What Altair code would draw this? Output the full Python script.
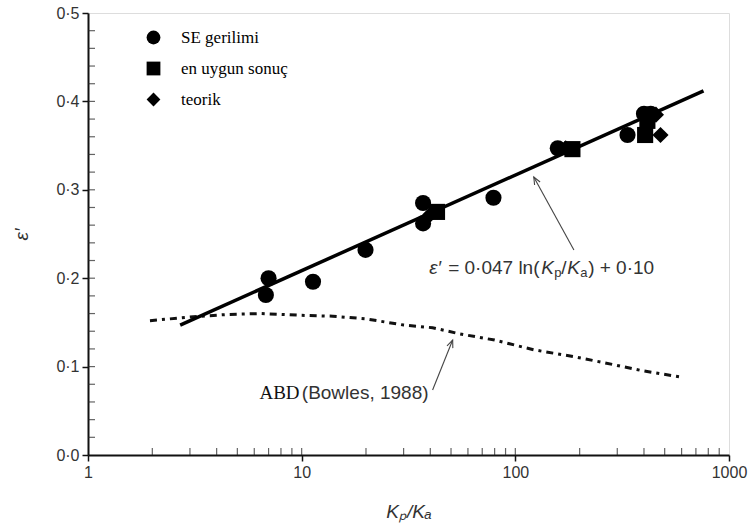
import altair as alt
import pandas as pd

# ---------------- data ----------------
series_names = ["SE gerilimi", "en uygun sonuç", "teorik"]

se_x = [6.8, 7.0, 11.3, 19.9, 37.0, 37.0, 79.0, 158.0, 335.0, 400.0, 430.0]
se_y = [0.181, 0.200, 0.196, 0.232, 0.285, 0.262, 0.291, 0.347, 0.362, 0.386, 0.386]
best_x = [43.0, 185.0, 415.0, 405.0]
best_y = [0.275, 0.346, 0.378, 0.362]
theo_x = [40.0, 172.0, 478.0, 455.0]
theo_y = [0.272, 0.347, 0.362, 0.385]

fit_x = [2.7, 760.0]
fit_y = [0.147, 0.412]

abd_x = [1.95, 3.0, 4.5, 6.5, 10.0, 14.0, 20.0, 30.0, 41.0, 55.0, 80.0, 122.0, 190.0, 253.0, 400.0, 600.0]
abd_y = [0.152, 0.156, 0.159, 0.160, 0.158, 0.157, 0.154, 0.147, 0.144, 0.137, 0.130, 0.119, 0.111, 0.105, 0.095, 0.088]

x_major = [1, 10, 100, 1000]
x_minor = [2, 3, 4, 5, 6, 7, 8, 9, 10, 20, 30, 40, 50, 60, 70, 80, 90, 100,
           200, 300, 400, 500, 600, 700, 800, 900]
y_major = [0.0, 0.1, 0.2, 0.3, 0.4, 0.5]
y_minor = [0.02, 0.04, 0.06, 0.08, 0.1, 0.12, 0.14, 0.16, 0.18, 0.2, 0.22, 0.24,
           0.26, 0.28, 0.3, 0.32, 0.34, 0.36, 0.38, 0.4, 0.42, 0.44, 0.46, 0.48]

# annotation anchors (data coordinates)
eq_anchor = (39.5, 0.211)
abd_anchor = (40.1, 0.070)
arrow_eq = [(188.0, 0.232), (122.0, 0.3145)]
arrow_abd = [(41.0, 0.0735), (50.9, 0.130)]

# ---------------- helpers ----------------
SANS = "Liberation Sans"
SERIF = "Liberation Serif"

xscale = alt.Scale(type="log", domain=[1, 1000], nice=False)
yscale = alt.Scale(domain=[0, 0.5], nice=False, zero=False)

xaxis = alt.Axis(values=x_major, format="d", labelFlush=False, grid=False,
                 tickSize=6, tickWidth=1.5, tickColor="#111",
                 domainColor="#111", domainWidth=2,
                 labelFont=SANS, labelFontSize=16, labelColor="#333", labelPadding=3,
                 title="Kₚ/Kₐ", titleFont=SANS, titleFontSize=19, titleFontStyle="italic",
                 titleFontWeight="normal", titleColor="#333", titlePadding=22)
yaxis = alt.Axis(values=y_major, grid=False,
                 labelExpr="replace(format(datum.value, '.1f'), '.', '·')",
                 tickSize=6, tickWidth=1.5, tickColor="#111",
                 domainColor="#111", domainWidth=2,
                 labelFont=SANS, labelFontSize=16, labelColor="#333", labelPadding=3,
                 title="ε′", titleFont=SANS, titleFontSize=19, titleFontStyle="italic",
                 titleFontWeight="normal", titleColor="#333", titlePadding=24)


def X(f):
    return alt.X(f"{f}:Q", scale=xscale, axis=xaxis)


def Y(f):
    return alt.Y(f"{f}:Q", scale=yscale, axis=yaxis)


# ---------------- layers ----------------
pts = pd.DataFrame({
    "x": se_x + best_x + theo_x,
    "y": se_y + best_y + theo_y,
    "s": [series_names[0]] * len(se_x) + [series_names[1]] * len(best_x) + [series_names[2]] * len(theo_x),
})
fit = pd.DataFrame({"x": fit_x, "y": fit_y})
abd = pd.DataFrame({"x": abd_x, "y": abd_y})

fit_line = alt.Chart(fit).mark_line(color="black", strokeWidth=3.5).encode(x=X("x"), y=Y("y"))
abd_line = alt.Chart(abd).mark_line(color="#111", strokeWidth=3, strokeDash=[7, 5, 3, 5]).encode(
    x=X("x"), y=Y("y"))

points = alt.Chart(pts).mark_point(filled=True, color="black", opacity=1, size=260).encode(
    x=X("x"), y=Y("y"),
    shape=alt.Shape("s:N", scale=alt.Scale(domain=series_names, range=["circle", "square", "diamond"]),
                    legend=alt.Legend(title=None, orient="none", legendX=57, legendY=16,
                                      labelFont=SERIF, labelFontSize=17, labelColor="black",
                                      symbolSize=190, symbolFillColor="black", symbolStrokeColor="black",
                                      symbolOpacity=1,
                                      rowPadding=10, labelOffset=19, padding=0)),
)

xt = pd.DataFrame({"x": x_minor, "y": [0.0] * len(x_minor)})
yt = pd.DataFrame({"x": [1.0] * len(y_minor), "y": y_minor})
x_ticks = alt.Chart(xt).mark_tick(orient="vertical", size=7, thickness=1.2, yOffset=-3.5, color="#222").encode(
    x=X("x"), y=Y("y"))
y_ticks = alt.Chart(yt).mark_tick(orient="horizontal", size=7, thickness=1.2, xOffset=3.5, color="#222").encode(
    x=X("x"), y=Y("y"))

# arrows
arr = pd.DataFrame({
    "x": [arrow_eq[0][0], arrow_eq[1][0], arrow_abd[0][0], arrow_abd[1][0]],
    "y": [arrow_eq[0][1], arrow_eq[1][1], arrow_abd[0][1], arrow_abd[1][1]],
    "g": ["eq", "eq", "abd", "abd"],
})
arrow_lines = alt.Chart(arr).mark_line(color="#444", strokeWidth=1.1).encode(
    x=X("x"), y=Y("y"), detail="g:N")
heads = pd.DataFrame({"x": [arrow_eq[1][0], arrow_abd[1][0]], "y": [arrow_eq[1][1], arrow_abd[1][1]],
                      "ang": [331.3, 21.8]})
arrow_heads = alt.Chart(heads).mark_point(shape="M-0.55,1.3L0,0L0.55,1.3", filled=False, size=130,
                                           color="#444", strokeWidth=1.1, opacity=1).encode(
    x=X("x"), y=Y("y"), angle=alt.Angle("ang:Q", scale=None))


def txt(anchor, s, dx=0, dy=0, font=SANS, size=19, style="normal", align="left", color="#333"):
    d = pd.DataFrame({"x": [anchor[0]], "y": [anchor[1]], "t": [s]})
    return alt.Chart(d).mark_text(align=align, baseline="middle", dx=dx, dy=dy, font=font,
                                  fontSize=size, fontStyle=style, color=color).encode(
        x=X("x"), y=Y("y"), text="t:N")


eq_parts = [
    txt(eq_anchor, "ε′", 0, style="italic"),
    txt(eq_anchor, "= 0·047 ln(", 19),
    txt(eq_anchor, "K", 112, style="italic"),
    txt(eq_anchor, "p", 125, 5, size=13),
    txt(eq_anchor, "/", 132),
    txt(eq_anchor, "K", 138, style="italic"),
    txt(eq_anchor, "a", 151, 5, size=13),
    txt(eq_anchor, ") + 0·10", 159),
]
abd_parts = [
    txt(abd_anchor, "(Bowles, 1988)", -2, align="right"),
    txt(abd_anchor, "ABD", -131, font=SERIF, align="right", color="#111"),
]

chart = alt.layer(
    abd_line, fit_line, points, x_ticks, y_ticks, arrow_lines, arrow_heads, *eq_parts, *abd_parts
).properties(
    width=641, height=442,
    autosize=alt.AutoSizeParams(type="none"),
    padding={"left": 88, "top": 13, "right": 23, "bottom": 72},
).configure_view(stroke="#222", strokeWidth=2).configure(background="white")

chart.save("out.html", embed_options={"renderer": "svg", "actions": False})
